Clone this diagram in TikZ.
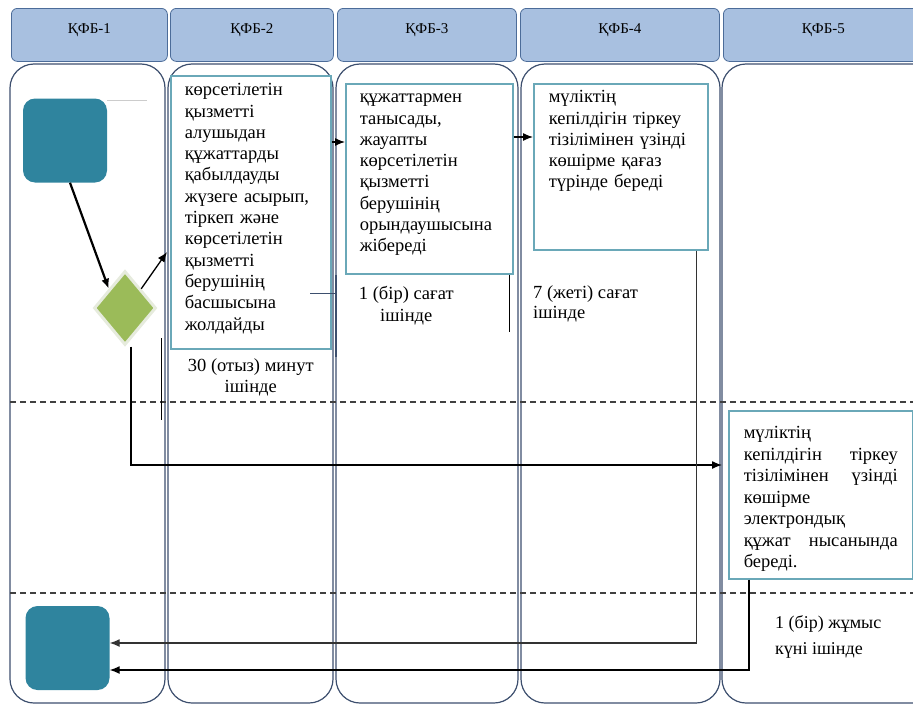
\documentclass[tikz,border=0pt]{standalone}
\usepackage{fontspec}
\setmainfont{Liberation Serif}
\usetikzlibrary{calc, positioning, shapes.geometric, arrows.meta}
\definecolor{hdrfill}{HTML}{A8C0E0}
\definecolor{hdrline}{HTML}{4C6C99}
\definecolor{laneline}{HTML}{3D4F6E}
\definecolor{boxline}{HTML}{6AA8B8}
\definecolor{tealbox}{HTML}{2F849E}
\definecolor{decgreen}{HTML}{9BBB59}
\definecolor{decrim}{HTML}{E6EBDD}

\begin{document}
\begin{tikzpicture}[x=1pt, y=-1pt,
    hdr/.style={draw=hdrline, fill=hdrfill, rounded corners=6pt, line width=0.8pt,
        anchor=north west, minimum height=53pt, inner sep=0pt,
        text height=25pt, text depth=28pt, font=\fontsize{15}{17}\selectfont},
    lane/.style={draw=laneline, line width=1.2pt, rounded corners=24pt},
    split/.style={draw=black!75, line width=1.5pt, dash pattern=on 6pt off 4pt},
    termbox/.style={fill=tealbox, rounded corners=12pt, minimum width=84pt, minimum height=84pt},
    procbox/.style={draw=boxline, fill=white, line width=1.5pt, anchor=north west,
        align=left, inner xsep=14pt, text height=13pt, font=\fontsize{18.5}{21.3}\selectfont},
    lbl/.style={align=center, inner sep=0pt, font=\fontsize{18.5}{21}\selectfont},
    arr/.style={-{Latex[length=10pt,width=8pt]}, line width=1.3pt}
    ]
    \useasboundingbox (0,0) rectangle (913,704);
    \clip (0,0) rectangle (913,704);

    \node[hdr, minimum width=156pt] (h1) at (11,8) {ҚФБ-1};
    \node[hdr, minimum width=163pt] (h2) at (170,8) {ҚФБ-2};
    \node[hdr, minimum width=179pt] (h3) at (337,8) {ҚФБ-3};
    \node[hdr, minimum width=199pt] (h4) at (520,8) {ҚФБ-4};
    \node[hdr, minimum width=200pt] (h5) at (723,8) {ҚФБ-5};

    \draw[lane] (10,64) rectangle (165,703);
    \draw[lane] (168,64) rectangle (333,703);
    \draw[lane] (336,64) rectangle (518,703);
    \draw[lane] (521,64) rectangle (720,703);
    \draw[lane] (722,64) rectangle (940,703);

    \draw[split] (10,402) -- (913,402);
    \draw[split] (10,593) -- (913,593);

    \node[termbox] (start) at (65,140.5) {};
    \node[termbox] (stop) at (67.5,648) {};
    \node[diamond, fill=decgreen, draw=decrim, line width=3pt, inner sep=0pt,
        minimum width=62pt, minimum height=74pt] (dia) at (125,308) {};

    \node[procbox, text width=132pt, inner ysep=7pt, text depth=246pt] (box2) at (170,75)
        {көрсетілетін\\қызметті\\алушыдан\\құжаттарды\\қабылдауды\\жүзеге асырып,\\тіркеп және\\көрсетілетін\\қызметті\\берушінің\\басшысына\\жолдайды};
    \node[procbox, text width=139pt, inner ysep=6pt, text depth=165pt] (box3) at (345,83)
        {құжаттармен\\танысады,\\жауапты\\көрсетілетін\\қызметті\\берушінің\\орындаушысына\\жібереді};
    \node[procbox, text width=144pt, inner xsep=15pt, inner ysep=6pt, text depth=141pt] (box4) at (533,83)
        {мүліктің\\кепілдігін тіркеу\\тізілімінен үзінді\\көшірме қағаз\\түрінде береді};
    \node[procbox, text width=154pt, inner xsep=15pt, inner ysep=15pt, text depth=125pt,
        font=\fontsize{18.5}{21.5}\selectfont] (box5) at (728,410)
        {мүліктің\\кепілдігін\hfill тіркеу\\тізілімінен\hfill үзінді\\көшірме\\электрондық\\құжат\hfill нысанында\\береді.};

    \node[lbl, below=9pt of box2] (t2) {30 (отыз) минут\\ішінде};
    \node[lbl, below=12pt of box3, xshift=-23pt, font=\fontsize{18.5}{22}\selectfont] (t3) {1 (бір) сағат\\ішінде};
    \node[lbl, anchor=north west, align=left, font=\fontsize{18.5}{20}\selectfont] (t4) at (533,285) {7 (жеті) сағат\\ішінде};
    \node[lbl, anchor=north west, align=left, font=\fontsize{18}{26}\selectfont] (t5) at (775,615) {1 (бір) жұмыс\\күні ішінде};

    \coordinate (c3) at ($(box3.north west)+(0,59)$);
    \coordinate (c4) at ($(box4.north west)+(0,54)$);
    \coordinate (c5) at ($(box5.north west)+(-6,55)$);
    \coordinate (o4) at ($(box4.south east)+(-12,0)$);
    \coordinate (o5) at ($(box5.south west)+(21,0)$);

    \draw[arr, line width=2.2pt] ($(start.south)+(5,0)$) -- (dia.north west);
    \draw[arr] (dia.north east) -- ($(box2.north west)+(-3,177)$);
    \draw[arr] (box2.east |- c3) -- (c3);
    \draw[arr] (box3.east |- c4) -- (c4);
    \draw[arr] ($(dia.south)+(6,0)$) |- (c5);
    \draw[arr, draw=black!80] (o4) |- ($(stop.east)+(0,-5)$);
    \draw[arr] (o5) |- ($(stop.east)+(0,22)$);

    \draw[black!20] ($(start.north east)+(0,2)$) -- ++(40,0);
    \draw[line width=0.8pt] (161,338) -- (161,420);
    \draw[laneline, line width=1pt] (310,293) -- (335,293);
    \draw[laneline, line width=2pt] (336,275) -- (336,357);
    \draw[line width=1pt] ($(box3.south east)+(-4,0)$) -- ++(0,57);
\end{tikzpicture}
\end{document}
